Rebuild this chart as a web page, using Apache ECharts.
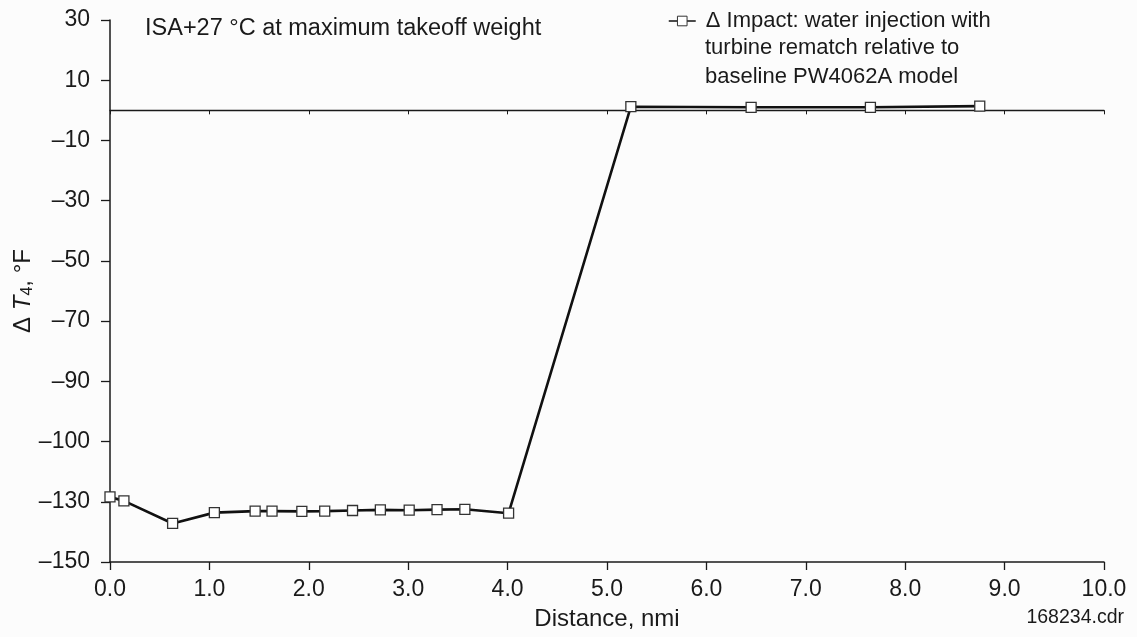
<!DOCTYPE html>
<html>
<head>
<meta charset="utf-8">
<script src="https://cdn.jsdelivr.net/npm/echarts@6/dist/echarts.min.js"></script>
<style>
  html, body { margin: 0; padding: 0; background: #fcfcfc; }
  #chart { width: 1137px; height: 637px; }
</style>
</head>
<body>
<div id="chart"></div>
<script>
// Distance, nmi
const distance = [0, 0.14, 0.63, 1.05, 1.46, 1.63, 1.93, 2.16, 2.44, 2.72, 3.01, 3.29, 3.57, 4.01, 5.24, 6.45, 7.65, 8.75];
// Delta T4, deg F
const deltaT4 = [-128.4, -129.7, -137.2, -133.6, -133.1, -133.1, -133.2, -133.1, -132.9, -132.7, -132.8, -132.6, -132.5, -133.8, 1.2, 1.0, 1.0, 1.4];

// tick labels as printed (the -110 tick reads "-100" in the original)
const yTickLabels = ['\u2013150', '\u2013130', '\u2013100', '\u201390', '\u201370', '\u201350', '\u201330', '\u201310', '10', '30'];
const xTickLabels = ['0.0', '1.0', '2.0', '3.0', '4.0', '5.0', '6.0', '7.0', '8.0', '9.0', '10.0'];

const seriesName = '\u0394 Impact: water injection with';
const legendMore = 'turbine rematch relative to\nbaseline PW4062A model';
const FONT = '"Liberation Sans", Arial, Helvetica, sans-serif';
const INK = '#1a1a1a';

const chart = echarts.init(document.getElementById('chart'), null, { renderer: 'canvas' });

const option = {
  backgroundColor: '#fcfcfc',
  animation: false,
  textStyle: { fontFamily: FONT, color: INK },
  title: [
    {
      text: 'ISA+27 \u00b0C at maximum takeoff weight',
      left: 145,
      top: 17,
      padding: 0,
      textStyle: { fontSize: 23.5, fontWeight: 'normal', color: INK, fontFamily: FONT }
    },
    {
      text: '168234.cdr',
      right: 13,
      top: 608,
      padding: 0,
      textStyle: { fontSize: 19.5, fontWeight: 'normal', color: INK, fontFamily: FONT }
    }
  ],
  legend: {
    left: 668,
    top: 10,
    padding: 0,
    itemWidth: 27,
    itemHeight: 12,
    lineStyle: { width: 1.5 },
    itemStyle: { borderWidth: 1 },
    textStyle: { fontSize: 22, color: INK, fontFamily: FONT, padding: [0, 0, 0, 5] },
    data: [seriesName]
  },
  // continuation lines of the legend entry
  graphic: [
    {
      type: 'text',
      left: 705,
      top: 34,
      style: { text: legendMore, font: '22px ' + FONT, lineHeight: 28.5, fill: INK }
    }
  ],
  grid: {
    left: 110,
    right: 33,
    top: 20,
    bottom: 75,
    containLabel: false,
    outerBoundsMode: 'none'
  },
  xAxis: [
    {
      type: 'value',
      min: 0,
      max: 10,
      interval: 1,
      position: 'bottom',
      name: 'Distance, nmi',
      nameLocation: 'middle',
      nameGap: 45,
      nameMoveOverlap: false,
      nameTextStyle: { fontSize: 24, color: INK, fontFamily: FONT },
      axisLine: { onZero: false, lineStyle: { color: INK, width: 1.5 } },
      axisTick: { inside: false, length: 8, lineStyle: { color: INK, width: 1.3 } },
      axisLabel: {
        margin: 16,
        fontSize: 23,
        color: INK,
        fontFamily: FONT,
        formatter: (v, i) => xTickLabels[i]
      },
      splitLine: { show: false }
    },
    {
      // zero line with small downward ticks
      type: 'value',
      min: 0,
      max: 10,
      interval: 1,
      position: 'top',
      axisLine: { onZero: true, lineStyle: { color: INK, width: 1.3 } },
      axisTick: { inside: true, length: 4, lineStyle: { color: INK, width: 1 } },
      axisLabel: { show: false },
      splitLine: { show: false }
    }
  ],
  yAxis: {
    type: 'value',
    min: -150,
    max: 30,
    interval: 20,
    name: '{d|\u0394 }{t|T}{s|4}{d|, \u00b0F}',
    nameLocation: 'middle',
    nameGap: 74,
    nameMoveOverlap: false,
    nameRotate: 90,
    nameTextStyle: {
      fontSize: 24,
      color: INK,
      fontFamily: FONT,
      rich: {
        d: { fontSize: 24, fontFamily: FONT, color: INK },
        t: { fontSize: 24, fontStyle: 'italic', fontFamily: FONT, color: INK },
        s: { fontSize: 16, fontFamily: FONT, color: INK, verticalAlign: 'bottom', padding: [9, 0, 0, 0] }
      }
    },
    axisLine: { show: true, onZero: false, lineStyle: { color: INK, width: 1.5 } },
    axisTick: { show: true, inside: false, length: 9, lineStyle: { color: INK, width: 1.3 } },
    axisLabel: {
      margin: 20,
      fontSize: 23,
      color: INK,
      fontFamily: FONT,
      formatter: (v, i) => yTickLabels[i]
    },
    splitLine: { show: false }
  },
  series: [
    {
      name: seriesName,
      type: 'line',
      xAxisIndex: 0,
      data: distance.map((d, i) => [d, deltaT4[i]]),
      symbol: 'rect',
      symbolSize: 10,
      showAllSymbol: true,
      lineStyle: { color: '#111', width: 2.6 },
      itemStyle: { color: '#ffffff', borderColor: '#333', borderWidth: 1.3 },
      z: 5
    }
  ]
};

chart.setOption(option);
</script>
</body>
</html>
